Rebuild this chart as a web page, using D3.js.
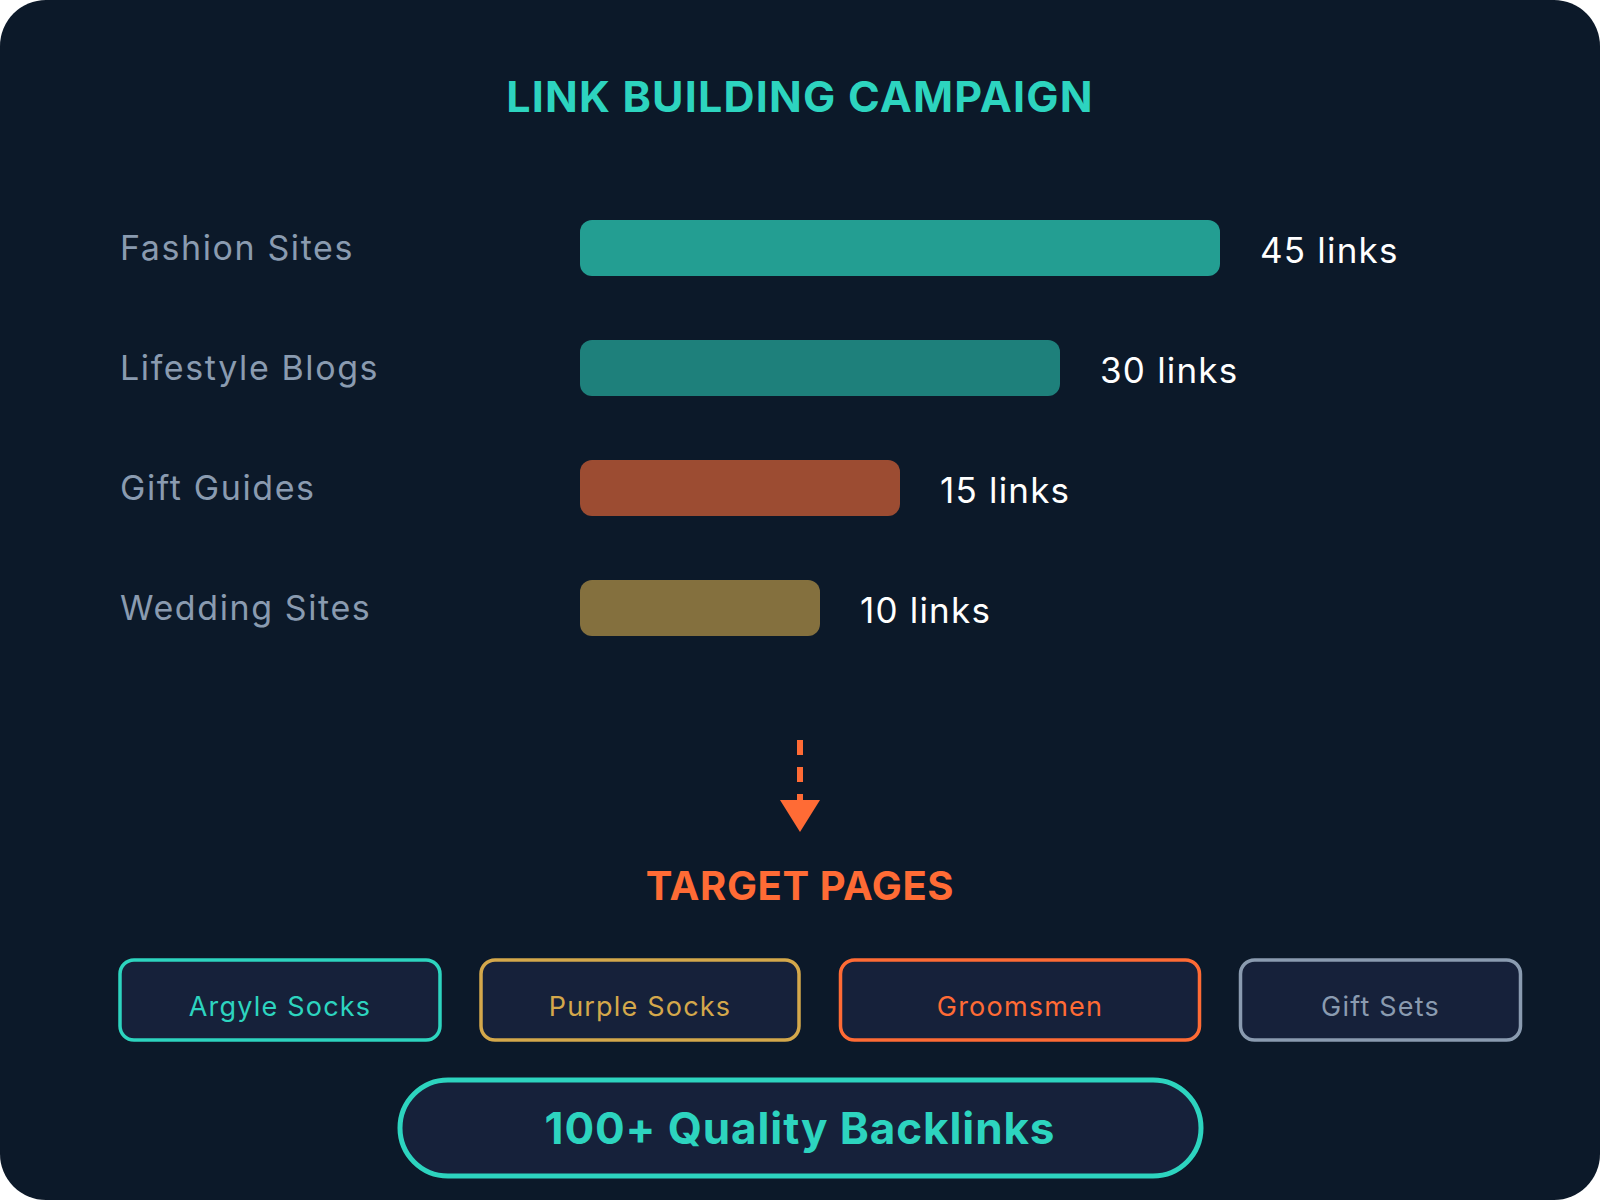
<!DOCTYPE html>
<html><head><meta charset="utf-8">
<script src="https://cdn.jsdelivr.net/npm/d3@7"></script>
<style>
html,body{margin:0;padding:0;background:#ffffff;}
svg{display:block;}
text{font-family:Inter,"Noto Sans",sans-serif;}
</style></head>
<body>
<script>
// ---- data ----
const categories = ["Fashion Sites", "Lifestyle Blogs", "Gift Guides", "Wedding Sites"];
const linkCounts = [45, 30, 15, 10];
const barShares = [80, 60, 40, 30]; // bar length, % of track
const barColors = ["#239e92", "#1e807b", "#9c4c32", "#84703e"];
const targetPages = ["Argyle Socks", "Purple Socks", "Groomsmen", "Gift Sets"];
const targetColors = ["#2dd4bf", "#d4a84b", "#ff6b35", "#8a9bb0"];
const titleText = "LINK BUILDING CAMPAIGN";
const targetTitle = "TARGET PAGES";
const summaryText = "100+ Quality Backlinks";

// ---- layout ----
const W = 1600, H = 1200;
const svg = d3.select("body").append("svg").attr("width", W).attr("height", H);
svg.append("rect").attr("width", W).attr("height", H).attr("rx", 46).attr("fill", "#0c1929");

svg.append("text").attr("x", 800).attr("y", 112).attr("text-anchor", "middle")
  .attr("fill", "#2dd4bf").attr("font-size", 43).attr("font-weight", 700).attr("letter-spacing", 1.2)
  .text(titleText);

const x = d3.scaleLinear().domain([0, 100]).range([0, 800]);
const y = d3.scaleBand().domain(categories).range([220, 220 + 120 * 4 - 64]).paddingInner(0.5333).paddingOuter(0);

const rows = svg.append("g").selectAll("g").data(categories).join("g");
rows.append("text").attr("x", 120).attr("y", d => y(d) + y.bandwidth() / 2 + 12)
  .attr("fill", "#8a9bb0").attr("font-size", 34).attr("letter-spacing", 1.6).text(d => d);
rows.append("rect").attr("x", 580).attr("y", d => y(d))
  .attr("width", (d, i) => x(barShares[i])).attr("height", y.bandwidth())
  .attr("rx", 12).attr("fill", (d, i) => barColors[i]);
rows.append("text").attr("x", (d, i) => 580 + x(barShares[i]) + 40)
  .attr("y", d => y(d) + y.bandwidth() / 2 + 15)
  .attr("fill", "#ffffff").attr("font-size", 35).attr("letter-spacing", 1.2).text((d, i) => linkCounts[i] + " links");

// arrow
svg.append("line").attr("x1", 800).attr("x2", 800).attr("y1", 740).attr("y2", 802)
  .attr("stroke", "#ff6b35").attr("stroke-width", 6).attr("stroke-dasharray", "15,12");
svg.append("path").attr("d", "M780,800 L820,800 L800,832 Z").attr("fill", "#ff6b35");

svg.append("text").attr("x", 800).attr("y", 900).attr("text-anchor", "middle")
  .attr("fill", "#ff6b35").attr("font-size", 40).attr("font-weight", 700).attr("letter-spacing", 0.6)
  .text(targetTitle);

// target boxes
const boxX = [120, 481, 840.5, 1240.5];
const boxW = [320, 318, 359, 280];
const boxes = svg.append("g").selectAll("g").data(targetPages).join("g");
boxes.append("rect").attr("x", (d, i) => boxX[i]).attr("y", 960).attr("width", (d, i) => boxW[i]).attr("height", 80)
  .attr("rx", 14).attr("fill", "#16213a").attr("stroke", (d, i) => targetColors[i]).attr("stroke-width", 3.5);
boxes.append("text").attr("x", (d, i) => boxX[i] + boxW[i] / 2).attr("y", 1016).attr("text-anchor", "middle")
  .attr("fill", (d, i) => targetColors[i]).attr("font-size", 27).attr("letter-spacing", 1.2).text(d => d);

// summary pill
svg.append("rect").attr("x", 400).attr("y", 1080).attr("width", 801).attr("height", 96).attr("rx", 48)
  .attr("fill", "#16213a").attr("stroke", "#2dd4bf").attr("stroke-width", 5);
svg.append("text").attr("x", 800).attr("y", 1144).attr("text-anchor", "middle")
  .attr("fill", "#2dd4bf").attr("font-size", 44).attr("font-weight", 700).attr("letter-spacing", 0.9)
  .text(summaryText);
</script>
</body></html>
